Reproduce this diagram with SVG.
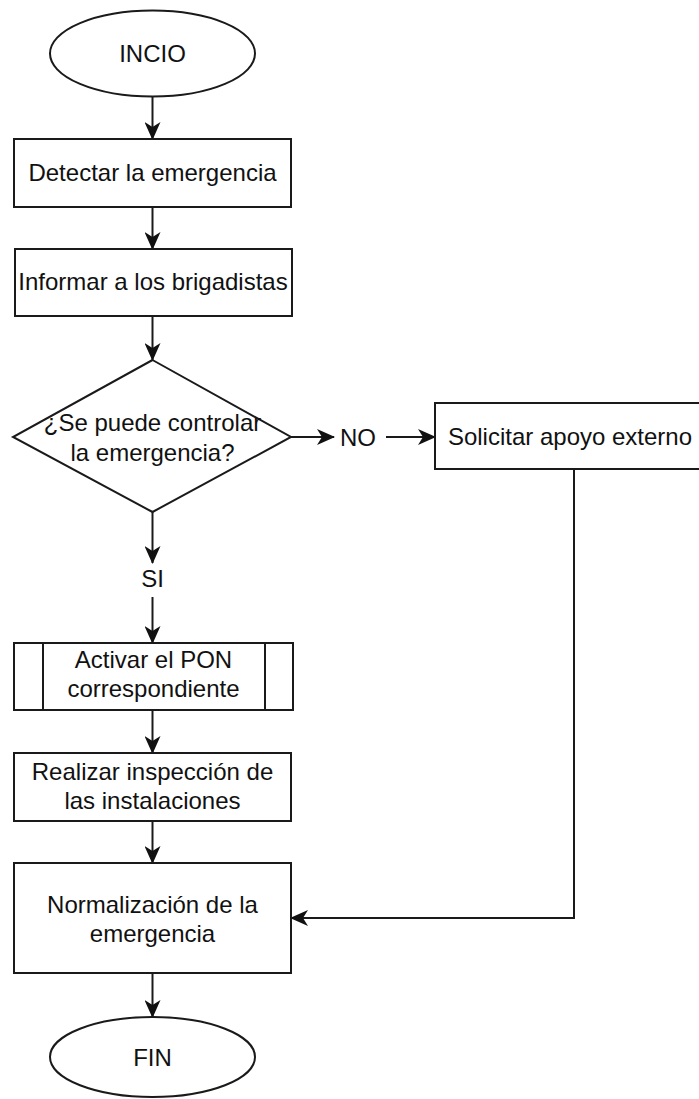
<svg xmlns="http://www.w3.org/2000/svg" width="699" height="1099" viewBox="0 0 699 1099">
  <style>
    .shape { fill: #ffffff; stroke: #1a1a1a; stroke-width: 2; }
    .edge { fill: none; stroke: #1a1a1a; stroke-width: 2; }
    text { font-family: "Liberation Sans", Arial, sans-serif; font-size: 24px; fill: #111111; text-anchor: middle; }
  </style>
  <defs>
    <marker id="arrow" markerUnits="userSpaceOnUse" markerWidth="18" markerHeight="16" refX="17" refY="8" orient="auto">
      <path d="M0,0 L18,8 L0,16 L5,8 Z" fill="#111111"/>
    </marker>
  </defs>
  <rect width="699" height="1099" fill="#ffffff"/>

  <g id="connectors">
    <line class="edge" x1="152.5" y1="97" x2="152.5" y2="139" marker-end="url(#arrow)"/>
    <line class="edge" x1="152.5" y1="207" x2="152.5" y2="249" marker-end="url(#arrow)"/>
    <line class="edge" x1="152.5" y1="316" x2="152.5" y2="360" marker-end="url(#arrow)"/>
    <line class="edge" x1="291" y1="437" x2="334" y2="437" marker-end="url(#arrow)"/>
    <line class="edge" x1="386" y1="437" x2="435" y2="437" marker-end="url(#arrow)"/>
    <line class="edge" x1="152.5" y1="512" x2="152.5" y2="563" marker-end="url(#arrow)"/>
    <line class="edge" x1="152.5" y1="597" x2="152.5" y2="643" marker-end="url(#arrow)"/>
    <line class="edge" x1="152.5" y1="710" x2="152.5" y2="753" marker-end="url(#arrow)"/>
    <line class="edge" x1="152.5" y1="821" x2="152.5" y2="863" marker-end="url(#arrow)"/>
    <polyline class="edge" points="574,469 574,918 291,918" marker-end="url(#arrow)"/>
    <line class="edge" x1="152.5" y1="973" x2="152.5" y2="1017" marker-end="url(#arrow)"/>
    <text x="358" y="446">NO</text>
    <text x="152.5" y="587">SI</text>
  </g>

  <g id="inicio">
    <ellipse class="shape" cx="152.5" cy="53.5" rx="102.5" ry="43"/>
    <text x="152.5" y="62">INCIO</text>
  </g>

  <g id="detectar">
    <rect class="shape" x="14" y="139" width="277" height="68"/>
    <text x="152.5" y="181">Detectar la emergencia</text>
  </g>

  <g id="informar">
    <rect class="shape" x="15" y="249" width="277" height="67"/>
    <text x="153" y="290">Informar a los brigadistas</text>
  </g>

  <g id="decision">
    <polygon class="shape" points="152.5,360 291,437 152.5,512 13,437"/>
    <text x="152.5" y="431">¿Se puede controlar</text>
    <text x="152.5" y="461">la emergencia?</text>
  </g>

  <g id="solicitar">
    <rect class="shape" x="435" y="403" width="277" height="66"/>
    <text x="570" y="445">Solicitar apoyo externo</text>
  </g>

  <g id="activar">
    <rect class="shape" x="14" y="643" width="279" height="67"/>
    <line class="edge" x1="43" y1="643" x2="43" y2="710"/>
    <line class="edge" x1="265" y1="643" x2="265" y2="710"/>
    <text x="153.5" y="668">Activar el PON</text>
    <text x="153.5" y="697">correspondiente</text>
  </g>

  <g id="realizar">
    <rect class="shape" x="14" y="753" width="277" height="68"/>
    <text x="152.5" y="780">Realizar inspección de</text>
    <text x="152.5" y="809">las instalaciones</text>
  </g>

  <g id="normalizacion">
    <rect class="shape" x="14" y="863" width="277" height="110"/>
    <text x="152.5" y="913">Normalización de la</text>
    <text x="152.5" y="942">emergencia</text>
  </g>

  <g id="fin">
    <ellipse class="shape" cx="152.5" cy="1057" rx="102.5" ry="40"/>
    <text x="152.5" y="1066">FIN</text>
  </g>
</svg>
